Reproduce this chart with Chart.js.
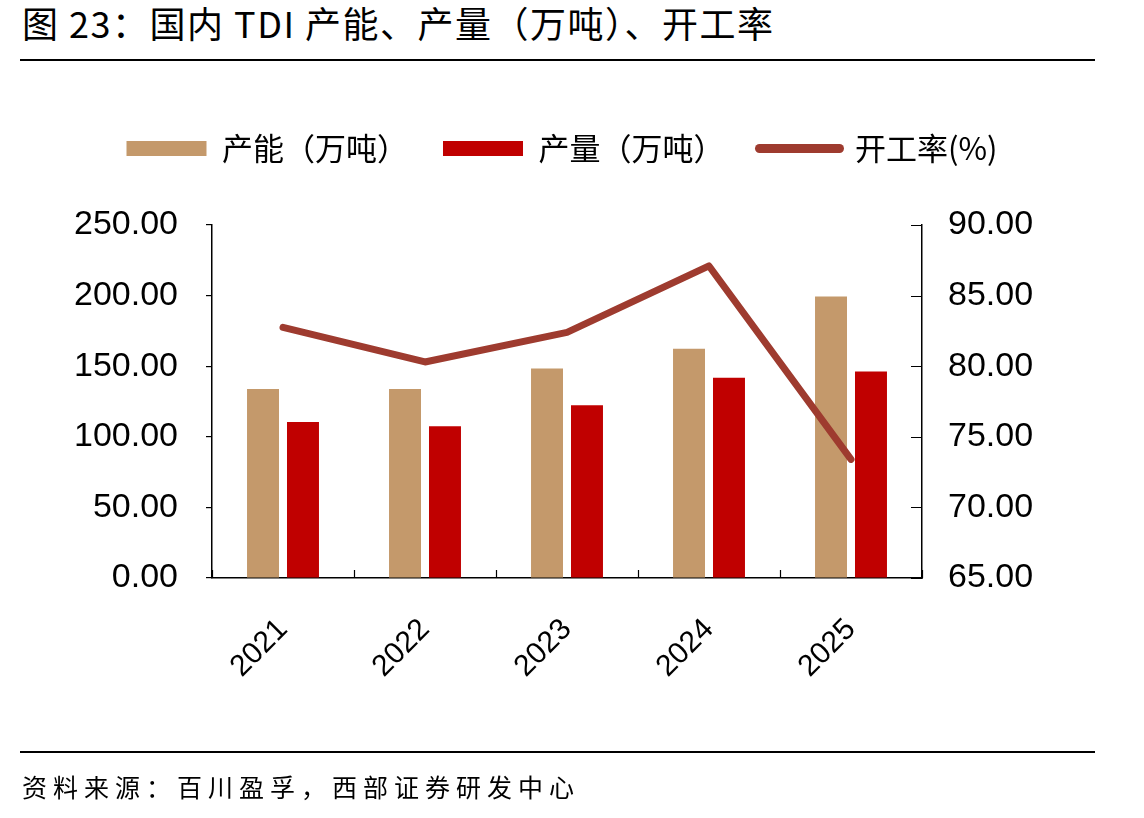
<!DOCTYPE html>
<html>
<head>
<meta charset="utf-8">
<script src="https://cdn.jsdelivr.net/npm/chart.js@4"></script>
<style>
  html, body { margin: 0; padding: 0; background: #fff; width: 1144px; height: 818px; overflow: hidden; }
  #title { position: absolute; left: 22px; top: -1px; font-family: "Noto Sans CJK SC", sans-serif; font-size: 36px; line-height: 46px; color: #000; white-space: nowrap; letter-spacing: 1.5px; }
  .rule { position: absolute; left: 20px; width: 1075px; height: 2px; background: #000; }
  #source { position: absolute; left: 22px; top: 768px; font-family: "Noto Sans CJK SC", sans-serif; font-size: 25px; line-height: 36px; color: #000; white-space: nowrap; letter-spacing: 6px; }
  #wrap { position: absolute; left: 0; top: 0; width: 1144px; height: 818px; }
</style>
</head>
<body>
<div id="title">图 23：国内 TDI 产能、产量（万吨）、开工率</div>
<div class="rule" style="top:59px"></div>
<div id="wrap"><canvas id="c" width="1144" height="818"></canvas></div>
<div class="rule" style="top:751px"></div>
<div id="source">资料来源：百川盈孚，西部证券研发中心</div>
<script>
const categories = ["2021", "2022", "2023", "2024", "2025"];
const capacity = [133.8, 133.8, 148.3, 162.3, 199.3];
const production = [110.4, 107.4, 122.3, 141.8, 146.2];
const utilization = [82.75, 80.3, 82.4, 87.1, 73.4];
const seriesNames = ["产能（万吨）", "产量（万吨）", "开工率(%)"];
const leftTicks = [0, 50, 100, 150, 200, 250];
const rightTicks = [65, 70, 75, 80, 85, 90];

const colCap = "#C4996B";
const colProd = "#C00000";
const colLine = "#9E3B2F";

const PLOT_LEFT = 212, PLOT_RIGHT = 922, PLOT_BOTTOM = 578, PAD_RIGHT = 20;

const innerTicks = {
  id: "innerTicks",
  afterDraw(chart) {
    const ctx = chart.ctx;
    const x = chart.scales.x, y1 = chart.scales.y1;
    ctx.save();
    ctx.strokeStyle = "#000";
    ctx.lineWidth = 1.2;
    ctx.beginPath();
    rightTicks.forEach(v => {
      const py = Math.round(y1.getPixelForValue(v)) + 0.5;
      ctx.moveTo(y1.left - 11, py);
      ctx.lineTo(y1.left, py);
    });
    const step = x.getPixelForTick(1) - x.getPixelForTick(0);
    for (let i = 0; i <= categories.length; i++) {
      const px = i < categories.length ? x.getPixelForTick(i) - step / 2 : x.right;
      const rx = Math.round(px) + 0.5;
      ctx.moveTo(rx, x.top - 8);
      ctx.lineTo(rx, x.top);
    }
    ctx.stroke();
    ctx.restore();
  }
};

new Chart(document.getElementById("c"), {
  data: {
    labels: categories,
    datasets: [
      { type: "bar", label: seriesNames[0], data: capacity, backgroundColor: colCap, yAxisID: "y", order: 2,
        categoryPercentage: 0.563, barPercentage: 0.8 },
      { type: "bar", label: seriesNames[1], data: production, backgroundColor: colProd, yAxisID: "y", order: 2,
        categoryPercentage: 0.563, barPercentage: 0.8 },
      { type: "line", label: seriesNames[2], data: utilization, borderColor: colLine, backgroundColor: colLine,
        borderWidth: 7, pointRadius: 0, tension: 0, borderCapStyle: "round", borderJoinStyle: "round",
        yAxisID: "y1", order: 1 }
    ]
  },
  options: {
    responsive: false,
    animation: false,
    devicePixelRatio: 1,
    layout: { padding: { top: 98, left: 0, right: PAD_RIGHT, bottom: 0 } },
    plugins: {
      tooltip: { enabled: false },
      legend: {
        display: true,
        position: "top",
        labels: {
          usePointStyle: true,
          pointStyleWidth: 80,
          boxHeight: 15,
          padding: 35,
          color: "#000",
          font: { family: "'Noto Sans CJK SC', sans-serif", size: 31 },
          generateLabels: () => [
            { text: seriesNames[0], fillStyle: colCap, strokeStyle: colCap, lineWidth: 0, pointStyle: "rect", datasetIndex: 0 },
            { text: seriesNames[1], fillStyle: colProd, strokeStyle: colProd, lineWidth: 0, pointStyle: "rect", datasetIndex: 1 },
            { text: seriesNames[2], fillStyle: colLine, strokeStyle: colLine, lineWidth: 9, lineCap: "round", pointStyle: "line", datasetIndex: 2 }
          ]
        }
      },
      subtitle: {
        display: true,
        text: "",
        position: "top",
        weight: 500,
        padding: 0,
        font: { size: 51, lineHeight: 1 }
      }
    },
    scales: {
      x: {
        type: "category",
        offset: true,
        grid: { display: false, drawTicks: false },
        border: { display: true, color: "#000", width: 1.5 },
        ticks: {
          color: "#000",
          font: { family: "'Liberation Sans', Arial, sans-serif", size: 30 },
          minRotation: 45, maxRotation: 45, padding: 34, autoSkip: false
        },
        afterFit: s => { s.height = 818 - PLOT_BOTTOM; }
      },
      y: {
        position: "left",
        min: 0, max: 250,
        afterBuildTicks: s => { s.ticks = leftTicks.map(v => ({ value: v })); },
        grid: { drawOnChartArea: false, drawTicks: true, tickLength: 6, color: "#000", lineWidth: 1.2 },
        border: { display: true, color: "#000", width: 1.5 },
        ticks: {
          color: "#000",
          font: { family: "'Liberation Sans', Arial, sans-serif", size: 34 },
          padding: 28,
          callback: v => Number(v).toFixed(2)
        },
        afterFit: s => { s.width = PLOT_LEFT; }
      },
      y1: {
        position: "right",
        min: 65, max: 90,
        afterBuildTicks: s => { s.ticks = rightTicks.map(v => ({ value: v })); },
        grid: { drawOnChartArea: false, drawTicks: false },
        border: { display: true, color: "#000", width: 1.5 },
        ticks: {
          color: "#000",
          font: { family: "'Liberation Sans', Arial, sans-serif", size: 34 },
          padding: 26,
          callback: v => Number(v).toFixed(2)
        },
        afterFit: s => { s.width = 1144 - PAD_RIGHT - PLOT_RIGHT; }
      }
    }
  },
  plugins: [innerTicks]
});
</script>
</body>
</html>
